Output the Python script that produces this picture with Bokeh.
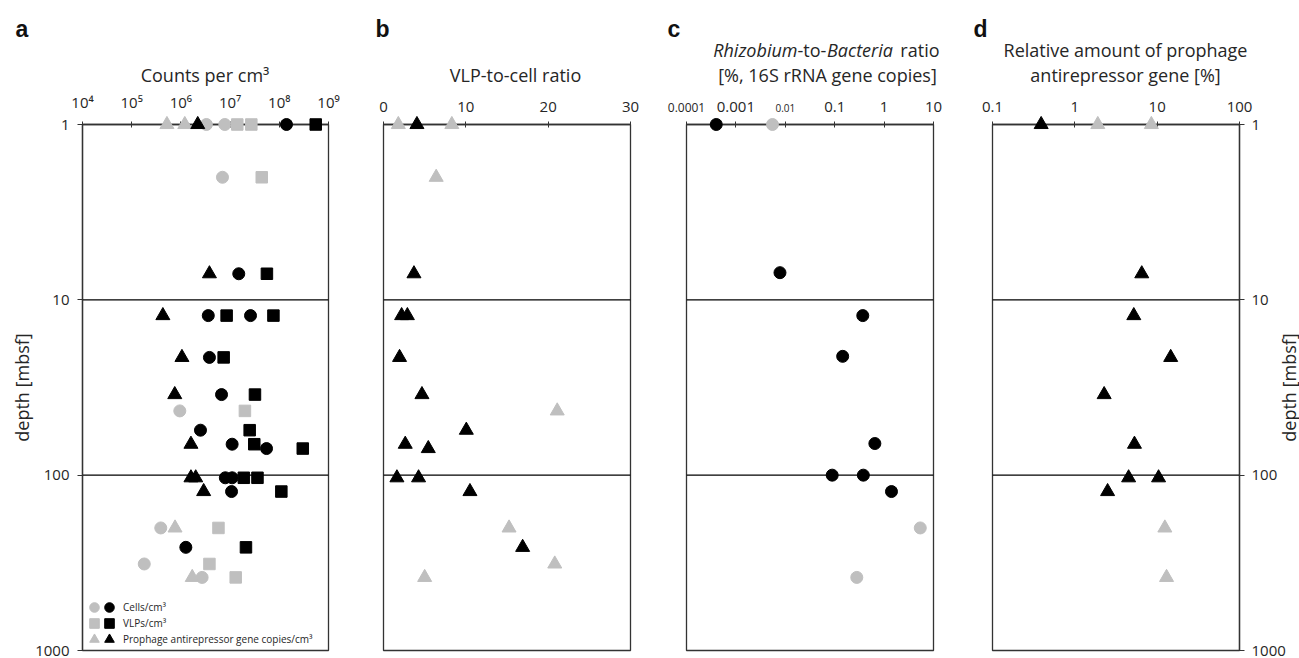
from math import pi, log10
from bokeh.plotting import figure
from bokeh.models import Range1d, FixedTicker, Span, Legend, LegendItem
from bokeh.layouts import row
from bokeh.embed import file_html
from bokeh.resources import INLINE
from bokeh.core.properties import value

# ---------------- data ----------------
# panel a: counts per cm3 (depth in mbsf)
a_cells_gray_depth = [1, 1, 2, 43, 200, 321, 383]
a_cells_gray = [3.3e6, 7.8e6, 7.0e6, 9.5e5, 3.9e5, 1.8e5, 2.7e6]
a_cells_black_depth = [1, 7.1, 12.3, 12.3, 21.3, 34.7, 55.4, 66.6, 70.5, 103.5, 103.5, 124, 258]
a_cells_black = [1.4e8, 1.5e7, 3.6e6, 2.6e7, 3.8e6, 6.7e6, 2.5e6, 1.1e7, 5.5e7, 8.0e6, 1.1e7, 1.07e7, 1.26e6]
a_vlp_gray_depth = [1, 1, 2, 43, 200, 321, 383]
a_vlp_gray = [1.4e7, 2.7e7, 4.4e7, 2.0e7, 5.8e6, 3.8e6, 1.3e7]
a_vlp_black_depth = [1, 7.1, 12.3, 12.3, 21.3, 34.7, 55.4, 66.6, 70.5, 103.5, 103.5, 124, 258]
a_vlp_black = [5.5e8, 5.6e7, 8.5e6, 7.6e7, 7.4e6, 3.2e7, 2.5e7, 3.1e7, 3.0e8, 1.9e7, 3.6e7, 1.1e8, 2.1e7]
a_pro_gray_depth = [1, 1, 200, 383]
a_pro_gray = [5.2e5, 1.2e6, 7.6e5, 1.7e6]
a_pro_black_depth = [1, 7.1, 12.3, 21.3, 34.7, 66.6, 103.5, 103.5, 124]
a_pro_black = [2.2e6, 3.8e6, 4.3e5, 1.05e6, 7.5e5, 1.6e6, 1.6e6, 2.0e6, 2.9e6]

# panel b: VLP-to-cell ratio
b_gray_depth = [1, 1, 2, 43, 200, 321, 383]
b_gray = [1.8, 8.3, 6.4, 21.1, 15.25, 20.8, 5.0]
b_black_depth = [1, 7.1, 12.3, 12.3, 21.3, 34.7, 55.4, 66.6, 70.5, 103.5, 103.5, 124, 258]
b_black = [4.06, 3.7, 2.2, 2.9, 1.95, 4.67, 10.06, 2.64, 5.44, 1.63, 4.26, 10.5, 16.9]

# panel c: Rhizobium-to-Bacteria ratio [%]
c_gray_depth = [1, 200, 383]
c_gray = [5.5e-3, 5.4, 0.28]
c_black_depth = [1, 7, 12.3, 21, 66, 100, 100, 124]
c_black = [4.0e-4, 7.8e-3, 0.37, 0.145, 0.65, 0.089, 0.38, 1.41]

# panel d: relative amount of prophage antirepressor gene [%]
d_gray_depth = [1, 1, 200, 383]
d_gray = [1.9, 8.5, 12.4, 13.0]
d_black_depth = [1, 7.1, 12.3, 21.3, 34.7, 66.6, 103.5, 103.5, 124]
d_black = [0.39, 6.5, 5.2, 14.6, 2.27, 5.3, 4.5, 10.4, 2.5]

depth_ticks = [1, 10, 100, 1000]
depth_labels = ["1", "10", "100", "1000"]
a_ticks = [1e4, 1e5, 1e6, 1e7, 1e8, 1e9]
a_tick_labels = ["10⁴", "10⁵", "10⁶", "10⁷", "10⁸", "10⁹"]
b_ticks = [0, 10, 20, 30]
b_tick_labels = ["0", "10", "20", "30"]
c_ticks = [1e-4, 1e-3, 1e-2, 1e-1, 1, 10]
c_tick_labels = ["", "0.001", "", "0.1", "1", "10"]
c_small_ticks = [1e-4, 1e-2]
c_small_labels = ["0.0001", "0.01"]
d_ticks = [0.1, 1, 10, 100]
d_tick_labels = ["0.1", "1", "10", "100"]
legend_labels = ["Cells/cm³", "VLPs/cm³", "Prophage antirepressor gene copies/cm³"]

# ---------------- style / geometry ----------------
FONT = "Open Sans"
TXT = "#262626"
LINE = "#333333"
GRAY = "#BFBFBF"
BLACK = "#000000"
TOP, FH, BB = 124, 526, 8          # frame top (page px), frame height, bottom border
Y_LO, Y_HI = 1, 1000
TITLE_SIZE = "18px"
LETTER_Y, LINE1_Y, LINE2_Y = 28, 49, 74


class Panel:
    def __init__(self, x_lo, x_hi, x_type, fl, fw, bl, br, y_loc, ticks, labels):
        self.x_lo, self.x_hi, self.x_type, self.fl, self.fw = x_lo, x_hi, x_type, fl, fw
        p = figure(frame_width=fw, frame_height=FH, x_range=Range1d(x_lo, x_hi),
                   y_range=Range1d(Y_HI, Y_LO), x_axis_type=x_type, y_axis_type="log",
                   x_axis_location="above", y_axis_location=y_loc,
                   min_border_left=bl, min_border_right=br, min_border_top=TOP,
                   min_border_bottom=BB, output_backend="svg", toolbar_location=None)
        p.grid.visible = False
        p.outline_line_color = LINE
        p.outline_line_width = 1.3
        ax = p.xaxis[0]
        ax.ticker = FixedTicker(ticks=ticks)
        ax.major_label_overrides = {t: l for t, l in zip(ticks, labels)}
        ax.axis_line_color = LINE
        ax.axis_line_width = 1.3
        ax.major_tick_in = 3
        ax.major_tick_out = 3
        ax.major_tick_line_color = LINE
        ax.minor_tick_line_color = None
        ax.major_label_text_font = FONT
        ax.major_label_text_font_size = "15px"
        ax.major_label_text_color = TXT
        ax.major_label_standoff = 10
        for y in (10, 100):
            p.add_layout(Span(location=y, dimension="width", line_color=BLACK,
                              line_width=1.2, level="underlay"))
        if y_loc is not None:
            ay = p.yaxis[0]
            ay.ticker = FixedTicker(ticks=depth_ticks)
            ay.major_label_overrides = {t: l for t, l in zip(depth_ticks, depth_labels)}
            ay.axis_line_color = LINE
            ay.axis_line_width = 1.3
            ay.major_tick_in = 0
            ay.major_tick_out = 5
            ay.major_tick_line_color = LINE
            ay.minor_tick_line_color = None
            ay.major_label_text_font = FONT
            ay.major_label_text_font_size = "15px"
            ay.major_label_text_color = TXT
            ay.major_label_standoff = 8 if y_loc == "left" else 7
        self.p = p

    # page pixel -> data coordinate (for texts placed around the frame)
    def xd(self, px):
        f = (px - self.fl) / self.fw
        if self.x_type == "log":
            return 10 ** (log10(self.x_lo) + f * (log10(self.x_hi) - log10(self.x_lo)))
        return self.x_lo + f * (self.x_hi - self.x_lo)

    @staticmethod
    def yd(py):
        return 10 ** (log10(Y_LO) + (py - TOP) / FH * (log10(Y_HI) - log10(Y_LO)))

    def pts(self, xs, ys, marker, color, size):
        r = self.p.scatter(x=xs, y=ys, marker=marker, size=size, color=color)
        r.level = "overlay"
        return r

    def text(self, s, px, py, size=TITLE_SIZE, align="center", style="normal", font=FONT,
             baseline="middle", angle=0.0, color=TXT, data_x=None):
        x = data_x if data_x is not None else self.xd(px)
        r = self.p.text(x=[x], y=[self.yd(py)], text=[s], text_font=value(font),
                        text_font_size=value(size), text_font_style=style,
                        text_align=align, text_baseline=baseline, angle=angle,
                        text_color=color)
        r.level = "overlay"

    def letter(self, s, px):
        self.text(s, px, LETTER_Y, size="23px", align="left", style="bold",
                  font="Liberation Sans", baseline="alphabetic", color="#111111")


CIRC, SQ, TRI = 12, 11.5, 14

# ---------------- panel a ----------------
A = Panel(1e4, 1e9, "log", 82, 246, 82, 27, "left", a_ticks, a_tick_labels)
r_cg = A.pts(a_cells_gray, a_cells_gray_depth, "circle", GRAY, CIRC)
r_cb = A.pts(a_cells_black, a_cells_black_depth, "circle", BLACK, CIRC)
r_vg = A.pts(a_vlp_gray, a_vlp_gray_depth, "square", GRAY, SQ)
r_vb = A.pts(a_vlp_black, a_vlp_black_depth, "square", BLACK, SQ)
r_pg = A.pts(a_pro_gray, a_pro_gray_depth, "triangle", GRAY, TRI)
r_pb = A.pts(a_pro_black, a_pro_black_depth, "triangle", BLACK, TRI)

legend_rows_y = [31, 15, -1]
for lab, rg, rb, ly in zip(legend_labels, [r_cg, r_vg, r_pg], [r_cb, r_vb, r_pb], legend_rows_y):
    for rr, lx, txt in ((rg, 0, ""), (rb, 15, lab)):
        A.p.add_layout(Legend(items=[LegendItem(label=txt, renderers=[rr])], location=(lx, ly),
                              padding=0, margin=0, spacing=0, glyph_width=24, glyph_height=24,
                              label_standoff=2, label_height=16, label_text_font=FONT,
                              label_text_font_size="10px", label_text_color=TXT,
                              background_fill_alpha=0, border_line_alpha=0), "center")

A.letter("a", 15)
A.text("Counts per cm³", 204.5, LINE2_Y)
A.text("depth [mbsf]", 21, 387, angle=pi / 2)

# ---------------- panel b ----------------
B = Panel(0, 30, "linear", 383, 247, 28, 28, None, b_ticks, b_tick_labels)
B.pts(b_gray, b_gray_depth, "triangle", GRAY, TRI)
B.pts(b_black, b_black_depth, "triangle", BLACK, TRI)
B.letter("b", 375)
B.text("VLP-to-cell ratio", 515, LINE2_Y)

# ---------------- panel c ----------------
C = Panel(1e-4, 10, "log", 686, 247, 28, 29, None, c_ticks, c_tick_labels)
C.pts(c_gray, c_gray_depth, "circle", GRAY, CIRC)
C.pts(c_black, c_black_depth, "circle", BLACK, CIRC)
C.letter("c", 667)
C.text("Rhizobium", 797, LINE1_Y, align="right", style="italic")
C.text("-to-", 797, LINE1_Y, align="left")
C.text("Bacteria", 826.5, LINE1_Y, align="left", style="italic")
C.text("ratio", 939, LINE1_Y, align="right")
C.text("[%, 16S rRNA gene copies]", 827, LINE2_Y)
for t, s, fs in zip(c_small_ticks, c_small_labels, ["12px", "10px"]):
    C.text(s, 0, 107, size=fs, baseline="alphabetic", data_x=t)

# ---------------- panel d ----------------
D = Panel(0.1, 100, "log", 992, 247, 30, 60, "right", d_ticks, d_tick_labels)
D.pts(d_gray, d_gray_depth, "triangle", GRAY, TRI)
D.pts(d_black, d_black_depth, "triangle", BLACK, TRI)
D.letter("d", 973)
D.text("Relative amount of prophage", 1125, LINE1_Y)
D.text("antirepressor gene [%]", 1125, LINE2_Y)
D.text("depth [mbsf]", 1288, 387, angle=pi / 2)

layout = row(A.p, B.p, C.p, D.p)
open("out.html", "w").write(file_html(layout, INLINE))
